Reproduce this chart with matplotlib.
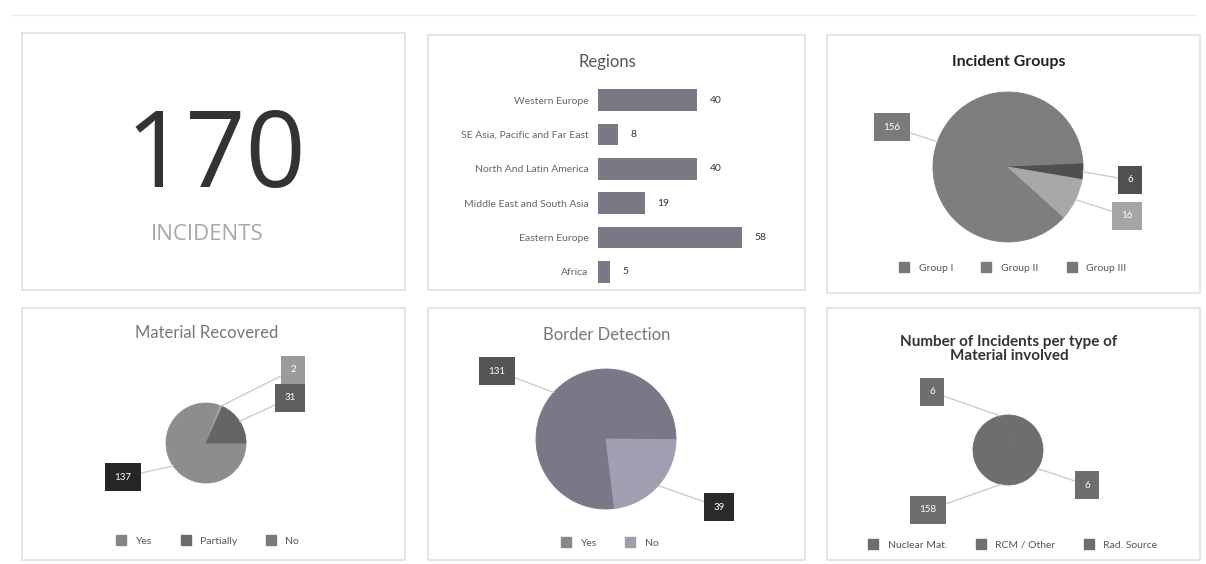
import numpy as np
import matplotlib
matplotlib.use('Agg')
import matplotlib.pyplot as plt
from matplotlib.patches import Rectangle
from matplotlib.lines import Line2D

plt.rcParams['font.family'] = ['Lato', 'DejaVu Sans']

# data
total_incidents = 170

regions = ['Western Europe', 'SE Asia, Pacific and Far East', 'North And Latin America',
           'Middle East and South Asia', 'Eastern Europe', 'Africa']
region_counts = [40, 8, 40, 19, 58, 5]

group_names = ['Group I', 'Group II', 'Group III']
group_counts = [156, 6, 16]

recovered_names = ['Yes', 'Partially', 'No']
recovered_counts = [137, 2, 31]

border_names = ['Yes', 'No']
border_counts = [131, 39]

material_names = ['Nuclear Mat.', 'RCM / Other', 'Rad. Source']
material_counts = [6, 6, 158]

W, H = 1206, 564
fig = plt.figure(figsize=(W / 100, H / 100), dpi=100)
fig.patch.set_facecolor('white')


def rect(x0, y0, x1, y1):
    # pixel box (top-left origin) -> figure fraction
    return [x0 / W, 1 - y1 / H, (x1 - x0) / W, (y1 - y0) / H]


# panel frames
panels = [(22, 33, 405, 290), (428, 35, 805, 290), (827, 35, 1200, 293),
          (22, 308, 405, 560), (428, 308, 805, 560), (827, 308, 1200, 560)]
for x0, y0, x1, y1 in panels:
    fig.add_artist(Rectangle((x0 / W, 1 - y1 / H), (x1 - x0) / W, (y1 - y0) / H,
                             transform=fig.transFigure, fill=False,
                             ec='#e0e0e0', lw=1.2))
fig.add_artist(Line2D([0.01, 0.99], [1 - 15 / H, 1 - 15 / H],
                      transform=fig.transFigure, color='#ececec', lw=1))


def ftext(x, y, s, **kw):
    fig.text(x / W, 1 - y / H, s, **kw)


# big number
ftext(216, 187, str(total_incidents), ha='center', va='baseline', fontsize=76,
      color='#333333', family=['Open Sans', 'DejaVu Sans'])
ftext(207, 240, 'INCIDENTS', ha='center', va='baseline', fontsize=16,
      color='#a8a8a8', family=['Open Sans', 'DejaVu Sans'])

# regions bar chart
ftext(607, 62, 'Regions', ha='center', va='center', fontsize=12, color='#555555')
ax = fig.add_axes(rect(598, 83, 796, 289))
y = np.arange(len(regions))
ax.barh(y, region_counts, height=0.64, color='#7b7785')
ax.set_xlim(0, 80)
ax.set_ylim(len(regions) - 0.5, -0.5)
ax.set_yticks(y)
ax.set_yticklabels(regions, fontsize=7.5, color='#666666')
ax.tick_params(axis='y', length=0, pad=7)
ax.set_xticks([])
for s in ax.spines.values():
    s.set_visible(False)
for yi, v in zip(y, region_counts):
    ax.annotate(str(v), (v, yi), xytext=(9, 0), textcoords='offset points',
                ha='left', va='center', fontsize=7.5, color='#333333')


def pie_panel(cx, cy, r, vals, colors, start, labels):
    a = fig.add_axes(rect(cx - r, cy - r, cx + r, cy + r))
    wedges, _ = a.pie(vals, colors=colors, startangle=start, counterclock=False,
                      radius=1)
    for w in wedges:
        # hide the seams between slices
        w.set_edgecolor(w.get_facecolor())
        w.set_linewidth(0.6)
    a.set_xlim(-1, 1)
    a.set_ylim(-1, 1)
    a.axis('off')
    for w, (txt, lx, ly, bc, ang) in zip(wedges, labels):
        if ang is None:
            ang = (w.theta1 + w.theta2) / 2
        t = np.deg2rad(ang)
        a.annotate(txt, xy=(np.cos(t), np.sin(t)), xycoords='data',
                   xytext=(lx, H - ly), textcoords='figure pixels',
                   ha='center', va='center', fontsize=7, color='white',
                   bbox=dict(boxstyle='square,pad=0.95', fc=bc, ec='none'),
                   arrowprops=dict(arrowstyle='-', color='#cccccc', lw=1,
                                   shrinkA=0, shrinkB=0),
                   annotation_clip=False)
    return a


def legend(cx, cy, names, colors):
    handles = [Line2D([], [], marker='s', ls='none', markersize=7, color=c)
               for c in colors]
    fig.legend(handles, names, loc='center', bbox_to_anchor=(cx / W, 1 - cy / H),
               ncol=len(names), frameon=False, fontsize=7.5, labelcolor='#555555',
               handletextpad=0.4, columnspacing=2.2)


# incident groups
ftext(1009, 62, 'Incident Groups', ha='center', va='center', fontsize=11.5,
      fontweight='bold', color='#222222')
ig_colors = ['#7e7e7e', '#4f4f4f', '#a8a8a8']
pie_panel(1008, 167, 75, group_counts, ig_colors, -42,
          [(str(group_counts[0]), 892, 127, '#7a7a7a', None),
           (str(group_counts[1]), 1130, 180, '#505050', None),
           (str(group_counts[2]), 1127, 216, '#a5a5a5', None)])
legend(1010, 268, group_names, ['#777777', '#7c7c7c', '#777777'])

# material recovered
ftext(207, 333, 'Material Recovered', ha='center', va='center', fontsize=12,
      color='#777777')
mr_colors = ['#8d8d8d', '#a0a0a0', '#646464']
pie_panel(206, 443, 40, recovered_counts, mr_colors, 0,
          [(str(recovered_counts[0]), 123, 477, '#262626', None),
           (str(recovered_counts[1]), 293, 370, '#9b9b9b', None),
           (str(recovered_counts[2]), 290, 398, '#5e5e5e', None)])
legend(205, 541, recovered_names, ['#858585', '#6a6a6a', '#7a7a7a'])

# border detection
ftext(607, 335, 'Border Detection', ha='center', va='center', fontsize=12,
      color='#777777')
bd_colors = ['#7b7787', '#a29db0']
pie_panel(606, 439, 70, border_counts, bd_colors, -83,
          [(str(border_counts[0]), 497, 371, '#555555', None),
           (str(border_counts[1]), 719, 507, '#2a2a2a', None)])
legend(607, 543, border_names, ['#8a8690', '#a09ca8'])

# material type
ftext(1009, 349, 'Number of Incidents per type of\nMaterial involved', ha='center',
      va='center', fontsize=11, fontweight='bold', color='#333333', linespacing=1.05)
mt_colors = ['#6e6e6e'] * 3
pie_panel(1008, 450, 35, material_counts, mt_colors, 90,
          [(str(material_counts[0]), 932, 392, '#6e6e6e', 103),
           (str(material_counts[1]), 1087, 485, '#6e6e6e', -32),
           (str(material_counts[2]), 928, 510, '#6e6e6e', -101)])
legend(1010, 545, material_names, ['#6e6e6e', '#707070', '#6c6c6c'])

fig.savefig('out.png', dpi=100, facecolor='white')
